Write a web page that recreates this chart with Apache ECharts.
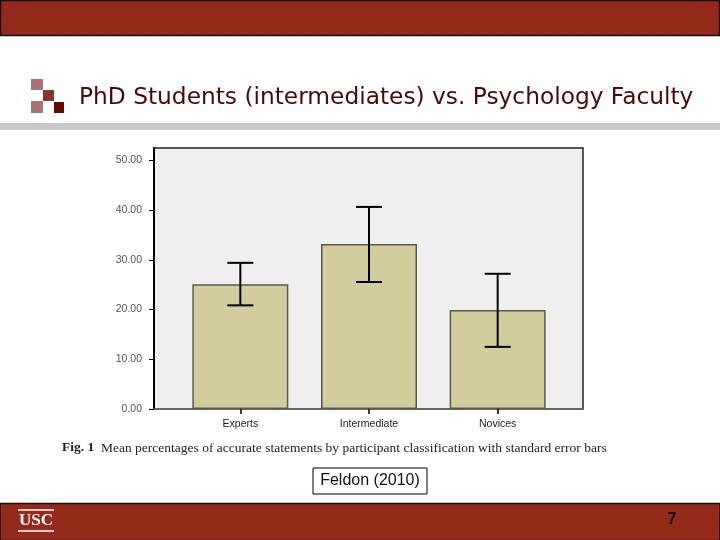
<!DOCTYPE html>
<html>
<head>
<meta charset="utf-8">
<script src="https://cdn.jsdelivr.net/npm/echarts@6/dist/echarts.min.js"></script>
<style>html,body{margin:0;padding:0;background:#fff;}#c{width:720px;height:540px;}</style>
</head>
<body>
<div id="c"></div>
<script>
const categories = ['Experts', 'Intermediate', 'Novices'];
const means = [25.1, 33.2, 19.9];
const errLow = [20.85, 25.55, 12.5];
const errHigh = [29.4, 40.65, 27.2];
const yTicks = [0, 10, 20, 30, 40, 50];
const titleText = 'PhD Students (intermediates) vs. Psychology Faculty';
const captionBold = 'Fig. 1';
const captionText = 'Mean percentages of accurate statements by participant classification with standard error bars';
const sourceText = 'Feldon (2010)';
const pageNumber = '7';

const chart = echarts.init(document.getElementById('c'), null, {renderer: 'canvas'});
const RED = '#952a1a';
const errData = categories.map((c, i) => [i, errLow[i], errHigh[i]]);

const option = {
  animation: false,
  backgroundColor: '#ffffff',
  grid: [
    {left: 154, top: 148, width: 429, height: 261, show: true, backgroundColor: '#efefef', borderColor: '#222', borderWidth: 1.5, z: 0},
    {left: 176, top: 148, width: 386, height: 261, show: false}
  ],
  xAxis: [
    {gridIndex: 0, type: 'category', data: [''], axisLine: {lineStyle: {color: '#6e6e66', width: 1.5}}, axisTick: {show: false}, axisLabel: {show: false}},
    {gridIndex: 1, type: 'category', data: categories, axisLine: {show: false},
     axisTick: {show: true, alignWithLabel: true, length: 5, lineStyle: {color: '#000', width: 1.5}},
     axisLabel: {fontFamily: 'Liberation Sans', fontSize: 10.5, color: '#222', margin: 10}}
  ],
  yAxis: [
    {gridIndex: 0, type: 'value', min: 0, max: 52.5,
     axisLine: {show: true, lineStyle: {color: '#000', width: 2}},
     axisTick: {show: true, length: 5, customValues: yTicks, lineStyle: {color: '#000', width: 1}},
     splitLine: {show: false},
     axisLabel: {margin: 12, fontFamily: 'Liberation Sans', fontSize: 10.5, color: '#555', customValues: yTicks,
       formatter: v => Number(v).toFixed(2)}},
    {gridIndex: 1, type: 'value', min: 0, max: 52.5, show: false}
  ],
  series: [
    {type: 'bar', xAxisIndex: 1, yAxisIndex: 1, data: means, barWidth: 96,
     itemStyle: {color: '#d3cd9e', borderColor: '#5b5a48', borderWidth: 1.5}, z: 3},
    {type: 'custom', xAxisIndex: 1, yAxisIndex: 1, data: errData, z: 5,
     encode: {x: 0, y: [1, 2]},
     renderItem: function (params, api) {
       const lo = api.coord([api.value(0), api.value(1)]);
       const hi = api.coord([api.value(0), api.value(2)]);
       const hw = 13;
       const st = {stroke: '#000', lineWidth: 2};
       return {type: 'group', children: [
         {type: 'line', shape: {x1: lo[0], y1: lo[1], x2: hi[0], y2: hi[1]}, style: st},
         {type: 'line', shape: {x1: lo[0] - hw, y1: lo[1], x2: lo[0] + hw, y2: lo[1]}, style: st},
         {type: 'line', shape: {x1: hi[0] - hw, y1: hi[1], x2: hi[0] + hw, y2: hi[1]}, style: st}
       ]};
     }}
  ],
  graphic: [
    {type: 'rect', shape: {x: 0.5, y: 0.5, width: 719, height: 35}, style: {fill: RED, stroke: '#111', lineWidth: 1.5}},
    {type: 'rect', shape: {x: 0, y: 123, width: 720, height: 7}, style: {fill: '#c8c8c8'}},
    {type: 'rect', shape: {x: 31, y: 79, width: 12, height: 11}, style: {fill: '#a97373'}},
    {type: 'rect', shape: {x: 43, y: 90, width: 11, height: 11}, style: {fill: '#8a3434'}},
    {type: 'rect', shape: {x: 31, y: 101, width: 12, height: 12}, style: {fill: '#a97373'}},
    {type: 'rect', shape: {x: 54, y: 102, width: 10, height: 11}, style: {fill: '#660808'}},
    {type: 'text', x: 79, y: 98, style: {text: titleText, font: '23.3px "DejaVu Sans"', fill: '#4a0808', textVerticalAlign: 'middle'}},
    {type: 'text', x: 62, y: 448, style: {text: captionBold, font: 'bold 13.5px "Liberation Serif"', fill: '#222', textVerticalAlign: 'middle'}},
    {type: 'text', x: 101, y: 448, style: {text: captionText, font: '13.5px "Liberation Serif"', fill: '#222', textVerticalAlign: 'middle'}},
    {type: 'rect', shape: {x: 313, y: 468, width: 114, height: 26}, style: {fill: '#fff', stroke: '#000', lineWidth: 1}},
    {type: 'text', x: 370, y: 481, style: {text: sourceText, font: '16px "Liberation Sans"', fill: '#111', textAlign: 'center', textVerticalAlign: 'middle'}},
    {type: 'rect', shape: {x: 0, y: 503.5, width: 720, height: 37}, style: {fill: RED, stroke: '#111', lineWidth: 1.5}},
    {type: 'line', shape: {x1: 18, y1: 510, x2: 54, y2: 510}, style: {stroke: '#fff', lineWidth: 1.5}},
    {type: 'line', shape: {x1: 18, y1: 531, x2: 54, y2: 531}, style: {stroke: '#fff', lineWidth: 1.5}},
    {type: 'text', x: 36, y: 521, style: {text: 'USC', font: 'bold 17px "Liberation Serif"', fill: '#fff', textAlign: 'center', textVerticalAlign: 'middle'}},
    {type: 'text', x: 672, y: 520, style: {text: pageNumber, font: 'bold 16px "Liberation Sans"', fill: '#111', textAlign: 'center', textVerticalAlign: 'middle'}}
  ]
};
chart.setOption(option);
</script>
</body>
</html>
